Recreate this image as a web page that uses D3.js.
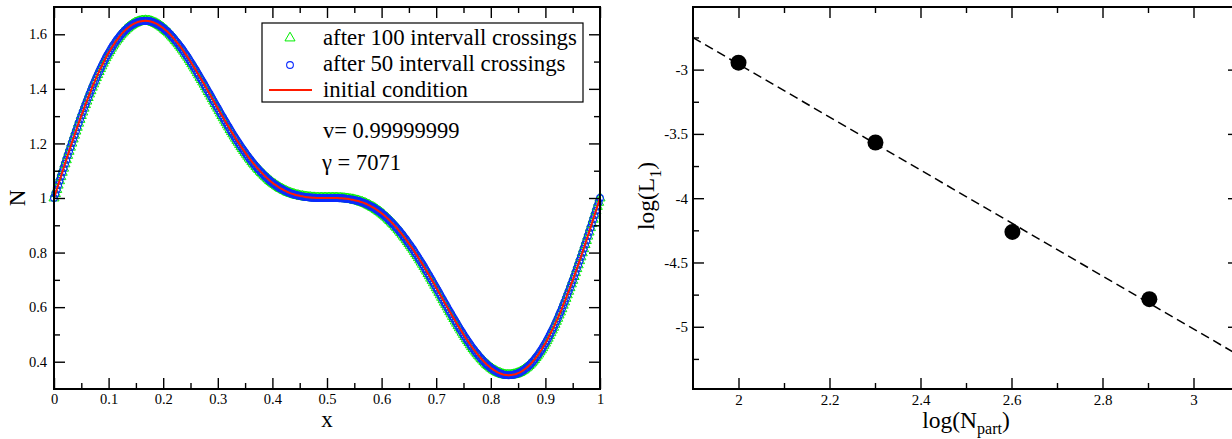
<!DOCTYPE html>
<html><head><meta charset="utf-8">
<script src="https://cdn.jsdelivr.net/npm/d3@7"></script>
<style>body{margin:0;background:#fff}svg{display:block}</style>
</head><body><svg id="c" width="1232" height="439"></svg>
<script>
// ---------- Left panel data ----------
const xSample = [
0,0.005,0.01,0.015,0.02,0.025,0.03,0.035,0.04,0.045,
0.05,0.055,0.06,0.065,0.07,0.075,0.08,0.085,0.09,0.095,
0.1,0.105,0.11,0.115,0.12,0.125,0.13,0.135,0.14,0.145,
0.15,0.155,0.16,0.165,0.17,0.175,0.18,0.185,0.19,0.195,
0.2,0.205,0.21,0.215,0.22,0.225,0.23,0.235,0.24,0.245,
0.25,0.255,0.26,0.265,0.27,0.275,0.28,0.285,0.29,0.295,
0.3,0.305,0.31,0.315,0.32,0.325,0.33,0.335,0.34,0.345,
0.35,0.355,0.36,0.365,0.37,0.375,0.38,0.385,0.39,0.395,
0.4,0.405,0.41,0.415,0.42,0.425,0.43,0.435,0.44,0.445,
0.45,0.455,0.46,0.465,0.47,0.475,0.48,0.485,0.49,0.495,
0.5,0.505,0.51,0.515,0.52,0.525,0.53,0.535,0.54,0.545,
0.55,0.555,0.56,0.565,0.57,0.575,0.58,0.585,0.59,0.595,
0.6,0.605,0.61,0.615,0.62,0.625,0.63,0.635,0.64,0.645,
0.65,0.655,0.66,0.665,0.67,0.675,0.68,0.685,0.69,0.695,
0.7,0.705,0.71,0.715,0.72,0.725,0.73,0.735,0.74,0.745,
0.75,0.755,0.76,0.765,0.77,0.775,0.78,0.785,0.79,0.795,
0.8,0.805,0.81,0.815,0.82,0.825,0.83,0.835,0.84,0.845,
0.85,0.855,0.86,0.865,0.87,0.875,0.88,0.885,0.89,0.895,
0.9,0.905,0.91,0.915,0.92,0.925,0.93,0.935,0.94,0.945,
0.95,0.955,0.96,0.965,0.97,0.975,0.98,0.985,0.99,0.995,
1];
const nProfile = [
1.000,1.031,1.063,1.094,1.125,1.156,1.186,1.216,1.245,1.274,
1.302,1.329,1.355,1.381,1.406,1.429,1.452,1.474,1.494,1.514,
1.532,1.549,1.564,1.579,1.592,1.604,1.614,1.623,1.631,1.637,
1.642,1.646,1.648,1.649,1.649,1.648,1.645,1.641,1.636,1.630,
1.623,1.614,1.605,1.594,1.583,1.571,1.558,1.545,1.530,1.516,
1.500,1.484,1.468,1.451,1.434,1.417,1.399,1.382,1.364,1.346,
1.329,1.311,1.294,1.277,1.260,1.243,1.227,1.211,1.196,1.181,
1.167,1.153,1.140,1.127,1.115,1.104,1.093,1.083,1.073,1.064,
1.056,1.049,1.042,1.035,1.030,1.025,1.020,1.016,1.013,1.010,
1.008,1.006,1.004,1.003,1.002,1.001,1.000,1.000,1.000,1.000,
1.000,1.000,1.000,1.000,1.000,0.999,0.998,0.997,0.996,0.994,
0.992,0.990,0.987,0.984,0.980,0.975,0.970,0.965,0.958,0.951,
0.944,0.936,0.927,0.917,0.907,0.896,0.885,0.873,0.860,0.847,
0.833,0.819,0.804,0.789,0.773,0.757,0.740,0.723,0.706,0.689,
0.671,0.654,0.636,0.618,0.601,0.583,0.566,0.549,0.532,0.516,
0.500,0.484,0.470,0.455,0.442,0.429,0.417,0.406,0.395,0.386,
0.377,0.370,0.364,0.359,0.355,0.352,0.351,0.351,0.352,0.354,
0.358,0.363,0.369,0.377,0.386,0.396,0.408,0.421,0.436,0.451,
0.468,0.486,0.506,0.526,0.548,0.571,0.594,0.619,0.645,0.671,
0.698,0.726,0.755,0.784,0.814,0.844,0.875,0.906,0.937,0.969,
1.000];
// intermediate particle positions (the markers are denser than the 0.005 grid)
const xMid = [
0.0025,0.0075,0.0125,0.0175,0.0225,0.0275,0.0325,0.0375,0.0425,0.0475,
0.0525,0.0575,0.0625,0.0675,0.0725,0.0775,0.0825,0.0875,0.0925,0.0975,
0.1025,0.1075,0.1125,0.1175,0.1225,0.1275,0.1325,0.1375,0.1425,0.1475,
0.1525,0.1575,0.1625,0.1675,0.1725,0.1775,0.1825,0.1875,0.1925,0.1975,
0.2025,0.2075,0.2125,0.2175,0.2225,0.2275,0.2325,0.2375,0.2425,0.2475,
0.2525,0.2575,0.2625,0.2675,0.2725,0.2775,0.2825,0.2875,0.2925,0.2975,
0.3025,0.3075,0.3125,0.3175,0.3225,0.3275,0.3325,0.3375,0.3425,0.3475,
0.3525,0.3575,0.3625,0.3675,0.3725,0.3775,0.3825,0.3875,0.3925,0.3975,
0.4025,0.4075,0.4125,0.4175,0.4225,0.4275,0.4325,0.4375,0.4425,0.4475,
0.4525,0.4575,0.4625,0.4675,0.4725,0.4775,0.4825,0.4875,0.4925,0.4975,
0.5025,0.5075,0.5125,0.5175,0.5225,0.5275,0.5325,0.5375,0.5425,0.5475,
0.5525,0.5575,0.5625,0.5675,0.5725,0.5775,0.5825,0.5875,0.5925,0.5975,
0.6025,0.6075,0.6125,0.6175,0.6225,0.6275,0.6325,0.6375,0.6425,0.6475,
0.6525,0.6575,0.6625,0.6675,0.6725,0.6775,0.6825,0.6875,0.6925,0.6975,
0.7025,0.7075,0.7125,0.7175,0.7225,0.7275,0.7325,0.7375,0.7425,0.7475,
0.7525,0.7575,0.7625,0.7675,0.7725,0.7775,0.7825,0.7875,0.7925,0.7975,
0.8025,0.8075,0.8125,0.8175,0.8225,0.8275,0.8325,0.8375,0.8425,0.8475,
0.8525,0.8575,0.8625,0.8675,0.8725,0.8775,0.8825,0.8875,0.8925,0.8975,
0.9025,0.9075,0.9125,0.9175,0.9225,0.9275,0.9325,0.9375,0.9425,0.9475,
0.9525,0.9575,0.9625,0.9675,0.9725,0.9775,0.9825,0.9875,0.9925,0.9975];
const nMid = [
1.016,1.047,1.078,1.109,1.140,1.171,1.201,1.230,1.259,1.288,
1.315,1.342,1.368,1.393,1.418,1.441,1.463,1.484,1.504,1.523,
1.540,1.557,1.572,1.585,1.598,1.609,1.619,1.627,1.634,1.640,
1.644,1.647,1.649,1.650,1.649,1.647,1.643,1.639,1.633,1.626,
1.618,1.610,1.600,1.589,1.577,1.565,1.552,1.538,1.523,1.508,
1.492,1.476,1.459,1.442,1.425,1.408,1.390,1.373,1.355,1.337,
1.320,1.302,1.285,1.268,1.251,1.235,1.219,1.204,1.188,1.174,
1.160,1.146,1.133,1.121,1.109,1.098,1.088,1.078,1.069,1.060,
1.052,1.045,1.038,1.033,1.027,1.022,1.018,1.015,1.011,1.009,
1.006,1.005,1.003,1.002,1.001,1.001,1.000,1.000,1.000,1.000,
1.000,1.000,1.000,1.000,0.999,0.999,0.998,0.997,0.995,0.994,
0.991,0.989,0.985,0.982,0.978,0.973,0.967,0.962,0.955,0.948,
0.940,0.931,0.922,0.912,0.902,0.891,0.879,0.867,0.854,0.840,
0.826,0.812,0.796,0.781,0.765,0.749,0.732,0.715,0.698,0.680,
0.663,0.645,0.627,0.610,0.592,0.575,0.558,0.541,0.524,0.508,
0.492,0.477,0.462,0.448,0.435,0.423,0.411,0.400,0.390,0.382,
0.374,0.367,0.361,0.357,0.353,0.351,0.350,0.351,0.353,0.356,
0.360,0.366,0.373,0.381,0.391,0.402,0.415,0.428,0.443,0.460,
0.477,0.496,0.516,0.537,0.559,0.582,0.607,0.632,0.658,0.685,
0.712,0.741,0.770,0.799,0.829,0.860,0.891,0.922,0.953,0.984];
const legendLabels = ["after 100 intervall crossings","after 50 intervall crossings","initial condition"];
const annotations = ["v= 0.99999999","\u03b3 = 7071"];
const leftXTicks = [0,0.1,0.2,0.3,0.4,0.5,0.6,0.7,0.8,0.9,1];
const leftXTickLabels = ["0","0.1","0.2","0.3","0.4","0.5","0.6","0.7","0.8","0.9","1"];
const leftXMinor = [0.05,0.15,0.25,0.35,0.45,0.55,0.65,0.75,0.85,0.95];
const leftYTicks = [0.4,0.6,0.8,1,1.2,1.4,1.6];
const leftYTickLabels = ["0.4","0.6","0.8","1","1.2","1.4","1.6"];
const leftYMinor = [0.5,0.7,0.9,1.1,1.3,1.5];

// ---------- Right panel data ----------
const logNpart = [2.0, 2.301, 2.602, 2.903];
const logL1 = [-2.946, -3.567, -4.262, -4.785];
const fitX = [1.9, 3.1];
const fitY = [-2.751, -5.223];
const rightXTicks = [2,2.2,2.4,2.6,2.8,3];
const rightXTickLabels = ["2","2.2","2.4","2.6","2.8","3"];
const rightXMinor = [2.1,2.3,2.5,2.7,2.9,3.1];
const rightYTicks = [-5,-4.5,-4,-3.5,-3];
const rightYTickLabels = ["-5","-4.5","-4","-3.5","-3"];
const rightYMinor = [-5.25,-4.75,-4.25,-3.75,-3.25,-2.75];

const SERIF = "'Liberation Serif','Times New Roman',Times,serif";
const svg = d3.select("#c").style("font-family", SERIF);

// all particle points (both sample sets), sorted by x
const profile = xSample.map((x,i)=>({x, n:nProfile[i]}))
  .concat(xMid.map((x,i)=>({x, n:nMid[i]})))
  .sort((a,b)=>a.x-b.x);

function frameAxes(g, x, y, o) {
  const [x0, x1] = x.range(), [y1, y0] = y.range();
  const st = sel => { sel.select(".domain").remove(); sel.selectAll(".tick line").attr("stroke","#000").attr("stroke-width",1.4); };
  g.append("g").attr("transform",`translate(0,${y1})`)
    .call(d3.axisBottom(x).tickValues(o.xT).tickFormat((d,i)=>o.xL[i]).tickSize(-11).tickPadding(o.xPad))
    .call(st).call(s=>s.selectAll("text").attr("font-size",o.fs).attr("font-family",SERIF).attr("fill","#000"));
  g.append("g").attr("transform",`translate(0,${y1})`)
    .call(d3.axisBottom(x).tickValues(o.xM).tickFormat("").tickSize(-6)).call(st);
  g.append("g").attr("transform",`translate(0,${y0})`)
    .call(d3.axisTop(x).tickValues(o.xT).tickFormat("").tickSize(-11)).call(st);
  g.append("g").attr("transform",`translate(0,${y0})`)
    .call(d3.axisTop(x).tickValues(o.xM).tickFormat("").tickSize(-6)).call(st);
  g.append("g").attr("transform",`translate(${x0},0)`)
    .call(d3.axisLeft(y).tickValues(o.yT).tickFormat((d,i)=>o.yL[i]).tickSize(-11).tickPadding(o.yPad))
    .call(st).call(s=>s.selectAll("text").attr("font-size",o.fs).attr("font-family",SERIF).attr("fill","#000"));
  g.append("g").attr("transform",`translate(${x0},0)`)
    .call(d3.axisLeft(y).tickValues(o.yM).tickFormat("").tickSize(-6)).call(st);
  g.append("g").attr("transform",`translate(${x1},0)`)
    .call(d3.axisRight(y).tickValues(o.yT).tickFormat("").tickSize(-11)).call(st);
  g.append("g").attr("transform",`translate(${x1},0)`)
    .call(d3.axisRight(y).tickValues(o.yM).tickFormat("").tickSize(-6)).call(st);
  g.append("rect").attr("x",x0).attr("y",y0).attr("width",x1-x0).attr("height",y1-y0)
    .attr("fill","none").attr("stroke","#000").attr("stroke-width",2);
}

// ================= LEFT PANEL =================
const xL = d3.scaleLinear().domain([0,1]).range([54,600]);
const yL = d3.scaleLinear().domain([0.3,1.7]).range([389,7]);
const gL = svg.append("g");

const triSym = d3.symbol().type(d3.symbolTriangle).size(44);
const cirSym = d3.symbol().type(d3.symbolCircle).size(36);
const GREEN = "#00ee00", BLUE = "#0a2aff", RED = "#ff1a00";

const plotL = gL.append("g");
plotL.selectAll("path.tri").data(profile).join("path").attr("class","tri")
  .attr("d",triSym).attr("transform",d=>`translate(${xL(d.x)},${yL(d.n)})`)
  .attr("fill","none").attr("stroke",GREEN).attr("stroke-width",1);
plotL.selectAll("path.cir").data(profile).join("path").attr("class","cir")
  .attr("d",cirSym).attr("transform",d=>`translate(${xL(d.x)},${yL(d.n)})`)
  .attr("fill","none").attr("stroke",BLUE).attr("stroke-width",1.1);
plotL.append("path").datum(profile)
  .attr("d",d3.line().x(d=>xL(d.x)).y(d=>yL(d.n)))
  .attr("fill","none").attr("stroke",RED).attr("stroke-width",2);

frameAxes(gL, xL, yL, {xT:leftXTicks,xL:leftXTickLabels,xM:leftXMinor,yT:leftYTicks,yL:leftYTickLabels,yM:leftYMinor,fs:14.5,xPad:5,yPad:7});

gL.append("text").attr("x",(54+600)/2).attr("y",427).attr("text-anchor","middle")
  .attr("font-size",23).text("x");
gL.append("text").attr("transform","translate(25,198) rotate(-90)").attr("text-anchor","middle")
  .attr("font-size",23).text("N");

// legend
const leg = gL.append("g");
leg.append("rect").attr("x",262).attr("y",23).attr("width",321).attr("height",79)
  .attr("fill","#fff").attr("stroke","#000").attr("stroke-width",1.2);
const legBase = [45, 71, 97];
leg.append("path").attr("d",triSym).attr("transform",`translate(290,${legBase[0]-7})`)
  .attr("fill","none").attr("stroke",GREEN).attr("stroke-width",1);
leg.append("path").attr("d",cirSym).attr("transform",`translate(290,${legBase[1]-6})`)
  .attr("fill","none").attr("stroke",BLUE).attr("stroke-width",1.1);
leg.append("line").attr("x1",269).attr("x2",312).attr("y1",legBase[2]-7).attr("y2",legBase[2]-7)
  .attr("stroke",RED).attr("stroke-width",2);
leg.selectAll("text.lt").data(legendLabels).join("text").attr("class","lt")
  .attr("x",323).attr("y",(d,i)=>legBase[i]).attr("font-size",22.8).text(d=>d);
gL.selectAll("text.ann").data(annotations).join("text").attr("class","ann")
  .attr("x",(d,i)=>i?322:323).attr("y",(d,i)=>[138,170][i]).attr("font-size",22.5).text(d=>d);

// ================= RIGHT PANEL =================
const xR = d3.scaleLinear().domain([1.9,3.1]).range([693,1239]);
const yR = d3.scaleLinear().domain([-5.484,-2.513]).range([389,7]);
const gR = svg.append("g");
gR.append("path").datum(fitX)
  .attr("d",d3.line().x(d=>xR(d)).y((d,i)=>yR(fitY[i])))
  .attr("fill","none").attr("stroke","#000").attr("stroke-width",1.5).attr("stroke-dasharray","9,5");
gR.selectAll("circle.pt").data(logNpart).join("circle").attr("class","pt")
  .attr("cx",d=>xR(d)).attr("cy",(d,i)=>yR(logL1[i])).attr("r",8).attr("fill","#000");

frameAxes(gR, xR, yR, {xT:rightXTicks,xL:rightXTickLabels,xM:rightXMinor,yT:rightYTicks,yL:rightYTickLabels,yM:rightYMinor,fs:15,xPad:5,yPad:5});

const xlab = gR.append("text").attr("x",(693+1239)/2).attr("y",428).attr("text-anchor","middle").attr("font-size",23.5);
xlab.append("tspan").text("log(N");
xlab.append("tspan").attr("font-size",16).attr("dy",6).text("part");
xlab.append("tspan").attr("dy",-6).text(")");

const ylab = gR.append("text").attr("transform","translate(654,196) rotate(-90)").attr("text-anchor","middle").attr("font-size",23.5);
ylab.append("tspan").text("log(L");
ylab.append("tspan").attr("font-size",16).attr("dy",7).text("1");
ylab.append("tspan").attr("dy",-7).text(")");
</script>
</body></html>
